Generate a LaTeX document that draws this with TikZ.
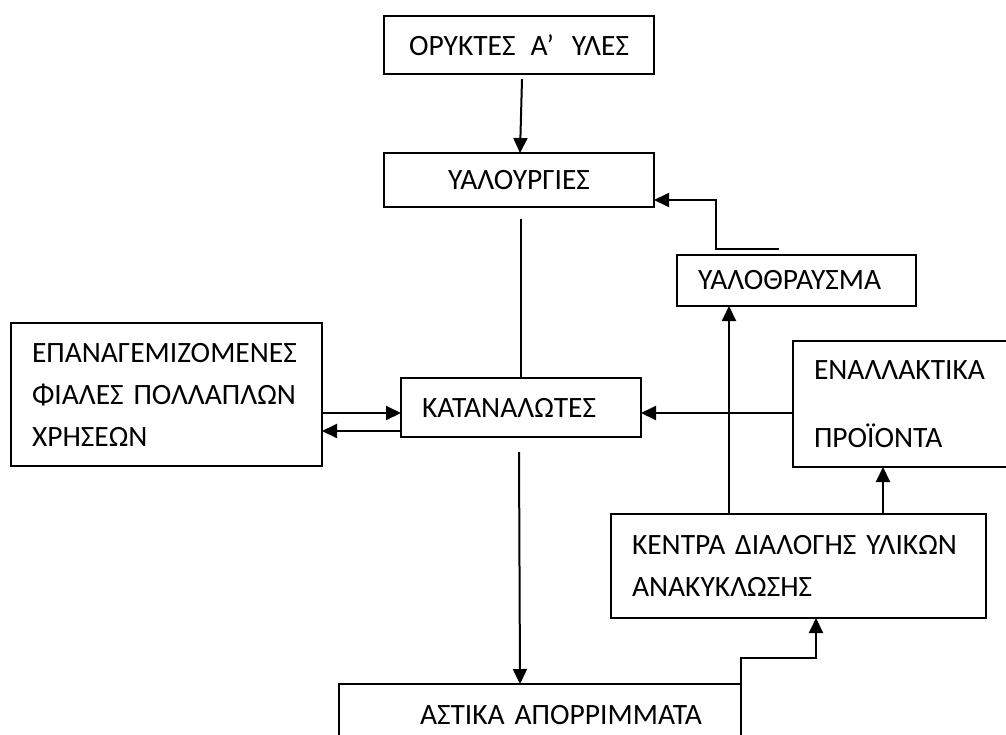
\documentclass[tikz,border=0pt]{standalone}
\usepackage{fontspec}
\setmainfont{Carlito}
\usepackage{tikz}
\usetikzlibrary{positioning,calc,arrows.meta}
\begin{document}
\begin{tikzpicture}[x=1pt, y=-1pt]
	\tikzstyle{box}=[rectangle, draw=black, line width=2pt, anchor=north west, inner xsep=21pt, inner ysep=0pt, outer sep=0pt, align=left, font=\fontsize{29.5}{42}\selectfont]
\tikzstyle{connect}=[-{Triangle[length=15pt, width=14pt]}, line width=2pt]
\tikzstyle{link}=[line width=2pt]
  \path[use as bounding box, clip] (0,0) rectangle (1006,734);
  \node[box, align=center, text width=228pt, minimum height=58pt] (oryktes) at (384,16) {ΟΡΥΚΤΕΣ\hspace{15pt}Α’\hspace{18pt}ΥΛΕΣ};
  \node[box, align=center, text width=228pt, minimum height=54pt] (yalourgies) [below=79pt of oryktes] {ΥΑΛΟΥΡΓΙΕΣ};
  \node[box, text width=198pt, minimum height=59pt] (katanalotes) at (401,378) {ΚΑΤΑΝΑΛΩΤΕΣ};
  \node[box, text width=269pt, minimum height=143pt] (fiales) at (11,323) {ΕΠΑΝΑΓΕΜΙΖΟΜΕΝΕΣ\\ΦΙΑΛΕΣ ΠΟΛΛΑΠΛΩΝ\\ΧΡΗΣΕΩΝ};
  \node[box, text width=197pt, minimum height=51pt] (thrausma) at (677,255) {ΥΑΛΟΘΡΑΥΣΜΑ};
  \node[box, text width=200pt, minimum height=126pt] (enallaktika) at (793,341) {ΕΝΑΛΛΑΚΤΙΚΑ\\[26pt]ΠΡΟΪΟΝΤΑ};
  \node[box, text width=333pt, minimum height=104pt] (kentra) at (611,514) {ΚΕΝΤΡΑ ΔΙΑΛΟΓΗΣ ΥΛΙΚΩΝ\\ΑΝΑΚΥΚΛΩΣΗΣ};
  \node[box, text width=360pt, minimum height=62pt] (astika) at (339,684) {\hspace*{60pt}ΑΣΤΙΚΑ ΑΠΟΡΡΙΜΜΑΤΑ};
  \path 
        ($(oryktes.south)+(3,5)$) edge [connect] ($(yalourgies.north)+(1,0)$)
        ($(fiales.east)+(0,18.5)$) edge [connect] ($(katanalotes.west)+(0,5.5)$)
        ($(katanalotes.west)+(0,23.5)$) edge [connect] ($(fiales.east)+(0,36.5)$)
        ($(enallaktika.west)+(0,9)$) edge [connect] ($(katanalotes.east)+(0,5.5)$)
        ($(kentra.north west)+(118,0)$) edge [connect] ($(thrausma.south west)+(52,0)$)
        ($(kentra.north west)+(272,0)$) edge [connect] ($(enallaktika.south west)+(90,0)$);
  \draw[link] ($(katanalotes.north |- yalourgies.south)+(0,12)$) -- (katanalotes.north);
  \draw[connect] ($(katanalotes.south)+(-2,15)$) -- ($(katanalotes.south |- astika.north)+(-1,0)$);
  \draw[connect] ($(thrausma.north west)+(102,-6)$) -- ++(-63,0) |- ($(yalourgies.east)+(0,20)$);
  \draw[connect] (astika.north east) -- ++(0,-26) -| ($(kentra.south west)+(205,0)$);

	\end{tikzpicture}
\end{document}
